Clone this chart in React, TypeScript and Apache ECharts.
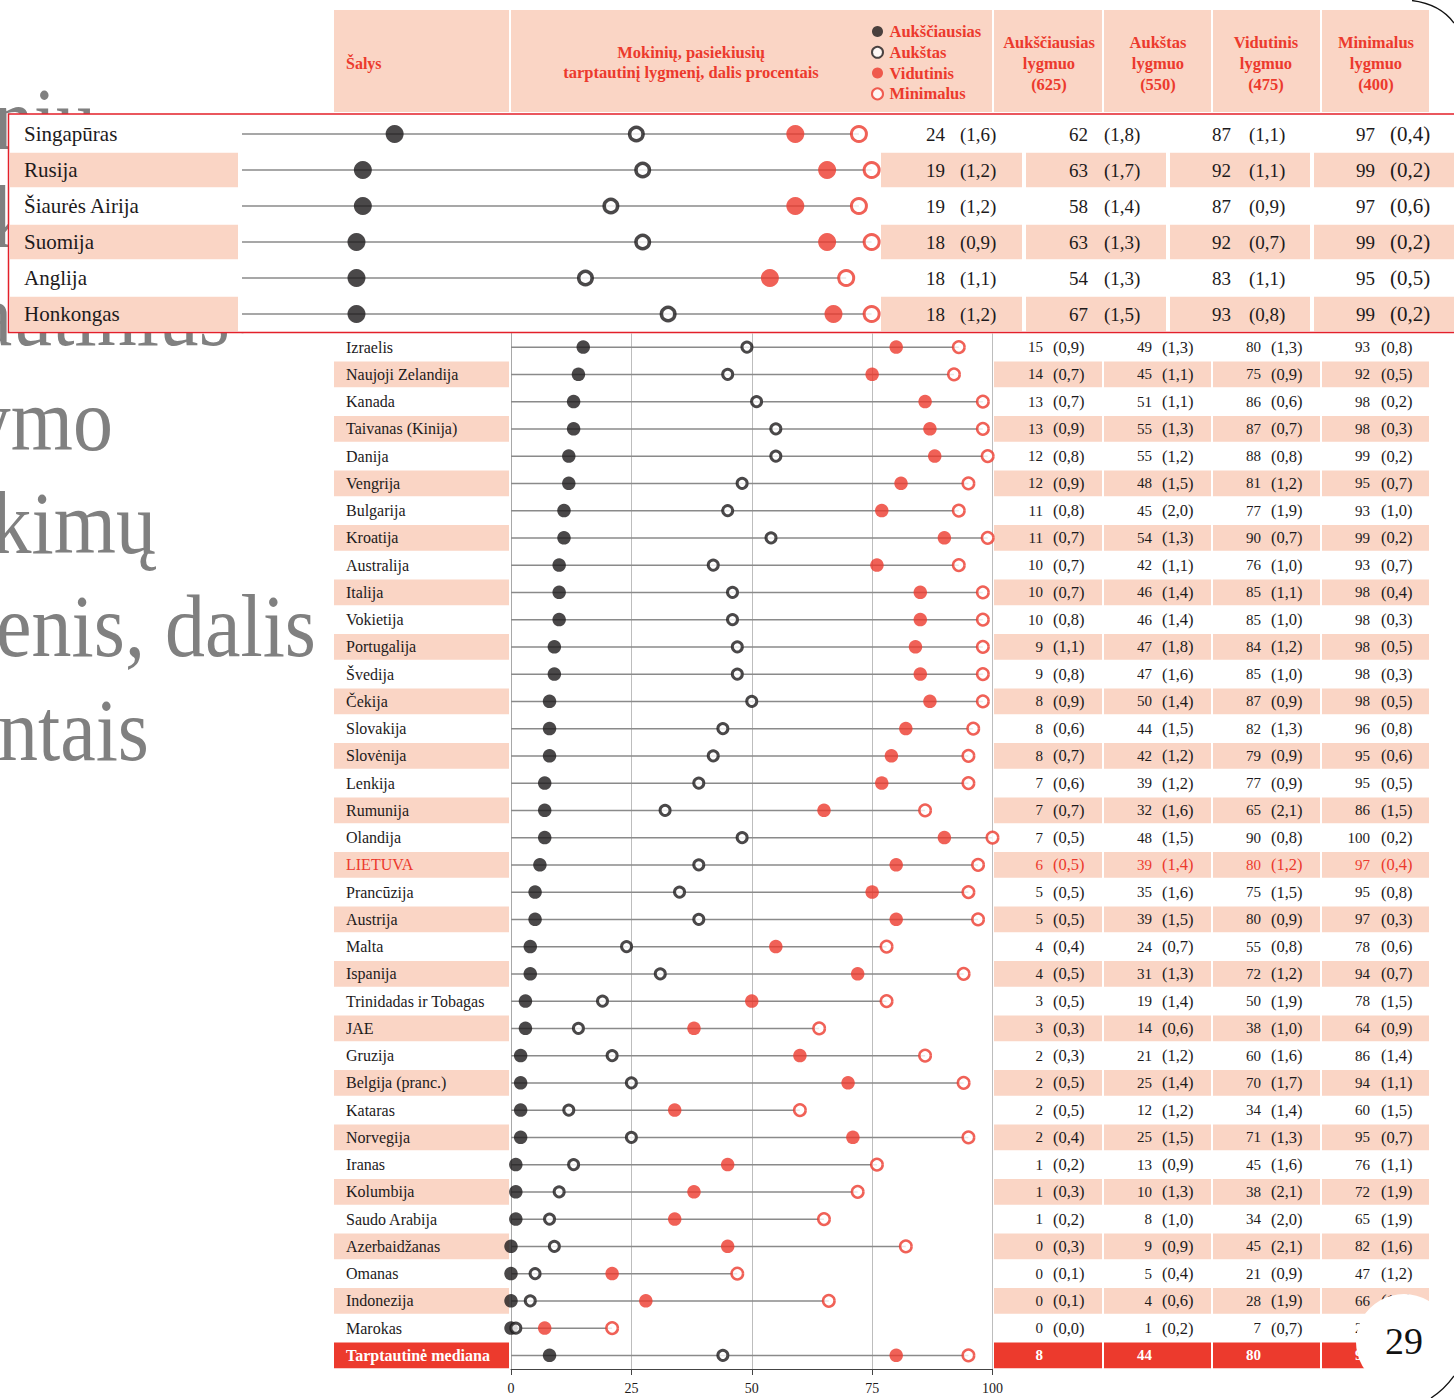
import React, { useEffect, useRef } from "react";
import * as echarts from "echarts";

// ---------- DATA ----------
const insetCountries = ["Singapūras", "Rusija", "Šiaurės Airija", "Suomija", "Anglija", "Honkongas"];
const insetAdvanced = [24, 19, 19, 18, 18, 18];
const insetAdvancedSE = ["1,6", "1,2", "1,2", "0,9", "1,1", "1,2"];
const insetHigh = [62, 63, 58, 63, 54, 67];
const insetHighSE = ["1,8", "1,7", "1,4", "1,3", "1,3", "1,5"];
const insetIntermediate = [87, 92, 87, 92, 83, 93];
const insetIntermediateSE = ["1,1", "1,1", "0,9", "0,7", "1,1", "0,8"];
const insetLow = [97, 99, 97, 99, 95, 99];
const insetLowSE = ["0,4", "0,2", "0,6", "0,2", "0,5", "0,2"];

const mainCountries = [
  "Izraelis", "Naujoji Zelandija", "Kanada", "Taivanas (Kinija)", "Danija", "Vengrija", "Bulgarija",
  "Kroatija", "Australija", "Italija", "Vokietija", "Portugalija", "Švedija", "Čekija", "Slovakija",
  "Slovėnija", "Lenkija", "Rumunija", "Olandija", "LIETUVA", "Prancūzija", "Austrija", "Malta",
  "Ispanija", "Trinidadas ir Tobagas", "JAE", "Gruzija", "Belgija (pranc.)", "Kataras", "Norvegija",
  "Iranas", "Kolumbija", "Saudo Arabija", "Azerbaidžanas", "Omanas", "Indonezija", "Marokas",
];
const highlightCountry = "LIETUVA";
const medianLabel = "Tarptautinė mediana";

const mainAdvanced = [15, 14, 13, 13, 12, 12, 11, 11, 10, 10, 10, 9, 9, 8, 8, 8, 7, 7, 7, 6, 5, 5, 4, 4, 3, 3, 2, 2, 2, 2, 1, 1, 1, 0, 0, 0, 0];
const mainAdvancedSE = ["0,9", "0,7", "0,7", "0,9", "0,8", "0,9", "0,8", "0,7", "0,7", "0,7", "0,8", "1,1", "0,8", "0,9", "0,6", "0,7", "0,6", "0,7", "0,5", "0,5", "0,5", "0,5", "0,4", "0,5", "0,5", "0,3", "0,3", "0,5", "0,5", "0,4", "0,2", "0,3", "0,2", "0,3", "0,1", "0,1", "0,0"];
const mainHigh = [49, 45, 51, 55, 55, 48, 45, 54, 42, 46, 46, 47, 47, 50, 44, 42, 39, 32, 48, 39, 35, 39, 24, 31, 19, 14, 21, 25, 12, 25, 13, 10, 8, 9, 5, 4, 1];
const mainHighSE = ["1,3", "1,1", "1,1", "1,3", "1,2", "1,5", "2,0", "1,3", "1,1", "1,4", "1,4", "1,8", "1,6", "1,4", "1,5", "1,2", "1,2", "1,6", "1,5", "1,4", "1,6", "1,5", "0,7", "1,3", "1,4", "0,6", "1,2", "1,4", "1,2", "1,5", "0,9", "1,3", "1,0", "0,9", "0,4", "0,6", "0,2"];
const mainIntermediate = [80, 75, 86, 87, 88, 81, 77, 90, 76, 85, 85, 84, 85, 87, 82, 79, 77, 65, 90, 80, 75, 80, 55, 72, 50, 38, 60, 70, 34, 71, 45, 38, 34, 45, 21, 28, 7];
const mainIntermediateSE = ["1,3", "0,9", "0,6", "0,7", "0,8", "1,2", "1,9", "0,7", "1,0", "1,1", "1,0", "1,2", "1,0", "0,9", "1,3", "0,9", "0,9", "2,1", "0,8", "1,2", "1,5", "0,9", "0,8", "1,2", "1,9", "1,0", "1,6", "1,7", "1,4", "1,3", "1,6", "2,1", "2,0", "2,1", "0,9", "1,9", "0,7"];
const mainLow = [93, 92, 98, 98, 99, 95, 93, 99, 93, 98, 98, 98, 98, 98, 96, 95, 95, 86, 100, 97, 95, 97, 78, 94, 78, 64, 86, 94, 60, 95, 76, 72, 65, 82, 47, 66, 21];
const mainLowSE = ["0,8", "0,5", "0,2", "0,3", "0,2", "0,7", "1,0", "0,2", "0,7", "0,4", "0,3", "0,5", "0,3", "0,5", "0,8", "0,6", "0,5", "1,5", "0,2", "0,4", "0,8", "0,3", "0,6", "0,7", "1,5", "0,9", "1,4", "1,1", "1,5", "0,7", "1,1", "1,9", "1,9", "1,6", "1,2", "1,7", "1,0"];
const medianValues = [8, 44, 80, 95];

const levelNames = ["Aukščiausias", "Aukštas", "Vidutinis", "Minimalus"];
const levelHeaders = [
  ["Aukščiausias", "lygmuo", "(625)"],
  ["Aukštas", "lygmuo", "(550)"],
  ["Vidutinis", "lygmuo", "(475)"],
  ["Minimalus", "lygmuo", "(400)"],
];
const countryHeader = "Šalys";
const chartHeader = ["Mokinių, pasiekiusių", "tarptautinį lygmenį, dalis procentais"];
const xTicks = [0, 25, 50, 75, 100];
const titleLines = ["Mokinių,", "pasiekusių", "tarptautinius", "skaitymo", "pasiekimų", "lygmenis, dalis", "procentais"];
const pageNumber = "29";

// ---------- STYLE ----------
const FONT = '"Liberation Serif", "Times New Roman", serif';
const RED = "#ec3a2d";
const SALMON = "#fad5c5";
const INK = "#1d1a1b";
const GRID_GREY = "#bdbdbd";
const LINE_GREY = "#8a8a8a";

const mainCategories = [...mainCountries, medianLabel];
const withMedian = (arr: number[], k: number) => [...arr, medianValues[k]];

function tableRenderer(o: any) {
  return (params: any, api: any) => {
    const i = params.dataIndex;
    const y = api.coord([0, i])[1];
    const h = api.size([0, 1])[1];
    const top = y - h / 2 + o.gap / 2;
    const ch = h - o.gap;
    const isMedian = o.medianIndex === i;
    const isHi = o.labels[i] === highlightCountry;
    const bg = isMedian ? RED : i % 2 === 1 ? SALMON : null;
    const txt = isMedian ? "#ffffff" : isHi ? RED : INK;
    const children: any[] = [];
    if (bg) children.push({ type: "rect", shape: { x: o.labelX, y: top, width: o.labelW, height: ch }, style: { fill: bg } });
    children.push({
      type: "text",
      style: {
        text: o.labels[i], x: o.labelTextX, y, fill: txt, fontSize: o.labelSize, fontFamily: FONT,
        fontWeight: isMedian ? "bold" : "normal", textAlign: "left", textVerticalAlign: "middle",
      },
    });
    o.cols.forEach((col: any, k: number) => {
      if (bg) children.push({ type: "rect", shape: { x: col.x, y: top, width: col.w, height: ch }, style: { fill: bg } });
      children.push({
        type: "text",
        style: {
          text: String(o.values[k][i]), x: col.valRight, y, fill: txt, fontSize: o.numSize, fontFamily: FONT,
          fontWeight: isMedian ? "bold" : "normal", textAlign: "right", textVerticalAlign: "middle",
        },
      });
      if (!isMedian) {
        children.push({
          type: "text",
          style: {
            text: "(" + o.ses[k][i] + ")", x: col.seLeft, y, fill: txt, fontSize: col.seSize || o.seSize, fontFamily: FONT,
            textAlign: "left", textVerticalAlign: "middle",
          },
        });
      }
    });
    return { type: "group", children };
  };
}

function lineRenderer(params: any, api: any) {
  const row = api.value(1);
  const p0 = api.coord([0, row]);
  const p1 = api.coord([api.value(0), row]);
  return { type: "line", shape: { x1: p0[0], y1: p0[1], x2: p1[0], y2: p1[1] }, style: { stroke: LINE_GREY, lineWidth: 1.5 } };
}

function dots(name: string, gi: number, values: number[], size: number, style: any) {
  return {
    type: "scatter", name, xAxisIndex: gi, yAxisIndex: gi, symbol: "circle", symbolSize: size,
    itemStyle: style, z: 5, silent: true, data: values.map((v, i) => [v, i]),
  };
}

function buildOption() {
  const insetValues = [insetAdvanced, insetHigh, insetIntermediate, insetLow];
  const insetSEs = [insetAdvancedSE, insetHighSE, insetIntermediateSE, insetLowSE];
  const mainValues = [0, 1, 2, 3].map((k) => withMedian([mainAdvanced, mainHigh, mainIntermediate, mainLow][k], k));
  const mainSEs = [mainAdvancedSE, mainHighSE, mainIntermediateSE, mainLowSE];

  const styles = (big: boolean) => [
    { color: INK },
    { color: "#ffffff", borderColor: INK, borderWidth: big ? 3.5 : 3 },
    { color: RED },
    { color: "#ffffff", borderColor: RED, borderWidth: big ? 3 : 2.5 },
  ];
  const sizesInset = [18, 13.5, 18, 15];
  const sizesMain = [13.5, 10, 13.5, 11.5];

  const series: any[] = [];
  series.push({
    type: "custom", xAxisIndex: 0, yAxisIndex: 0, z: 2, silent: true,
    encode: { x: 0, y: 1 }, data: insetCountries.map((_, i) => [0, i]),
    renderItem: tableRenderer({
      labels: insetCountries, values: insetValues, ses: insetSEs, medianIndex: -1, gap: 1.5,
      labelX: 10, labelW: 228, labelTextX: 24, labelSize: 21, numSize: 19, seSize: 19,
      cols: [
        { x: 881, w: 141, valRight: 945, seLeft: 960 },
        { x: 1026, w: 140, valRight: 1088, seLeft: 1104 },
        { x: 1170, w: 140, valRight: 1231, seLeft: 1249 },
        { x: 1314, w: 145, valRight: 1375, seLeft: 1390, seSize: 21 },
      ],
    }),
  });
  series.push({
    type: "custom", xAxisIndex: 1, yAxisIndex: 1, z: 2, silent: true,
    encode: { x: 0, y: 1 }, data: mainCategories.map((_, i) => [0, i]),
    renderItem: tableRenderer({
      labels: mainCategories, values: mainValues, ses: mainSEs, medianIndex: mainCountries.length, gap: 1.6,
      labelX: 334, labelW: 175, labelTextX: 346, labelSize: 16, numSize: 15, seSize: 16.5,
      cols: [
        { x: 994, w: 108, valRight: 1043, seLeft: 1053 },
        { x: 1104, w: 107, valRight: 1152, seLeft: 1162 },
        { x: 1213, w: 107, valRight: 1261, seLeft: 1271 },
        { x: 1322, w: 107, valRight: 1370, seLeft: 1381 },
      ],
    }),
  });
  series.push({
    type: "custom", xAxisIndex: 0, yAxisIndex: 0, z: 3, silent: true, encode: { x: 0, y: 1 },
    data: insetLow.map((v, i) => [v, i]), renderItem: lineRenderer,
  });
  series.push({
    type: "custom", xAxisIndex: 1, yAxisIndex: 1, z: 3, silent: true, encode: { x: 0, y: 1 },
    data: mainValues[3].map((v, i) => [v, i]), renderItem: lineRenderer,
  });
  const si = styles(true);
  const sm = styles(false);
  [0, 1, 2, 3].forEach((k) => {
    series.push(dots(levelNames[k], 0, insetValues[k], sizesInset[k], si[k]));
    series.push(dots(levelNames[k], 1, mainValues[k], sizesMain[k], sm[k]));
  });

  const graphic: any[] = [];
  const titleRight = [116, 165, 230, 113, 156, 316, 149];
  const titleMid = [118, 216, 314, 419, 522, 625, 729];
  titleLines.forEach((t, i) => {
    graphic.push({
      type: "text", x: titleRight[i], y: titleMid[i], scaleY: 1.12, z: 0, silent: true,
      style: { text: t, fill: "#808080", fontSize: 80, fontFamily: FONT, textAlign: "right", textVerticalAlign: "middle" },
    });
  });
  graphic.push({ type: "rect", z: 1, silent: true, shape: { x: 8, y: 114, width: 1446, height: 218.5 }, style: { fill: "#ffffff" } });
  const headerCells = [[334, 175], [511, 481], [994, 108], [1104, 107], [1213, 107], [1322, 107]];
  headerCells.forEach(([x, w]) => {
    graphic.push({ type: "rect", z: 1, silent: true, shape: { x, y: 10, width: w, height: 102 }, style: { fill: SALMON } });
  });
  const hText = (text: string, x: number, y: number, align: string, size: number) => ({
    type: "text", z: 2, silent: true,
    style: { text, x, y, fill: RED, fontSize: size, fontWeight: "bold", fontFamily: FONT, textAlign: align, textVerticalAlign: "middle" },
  });
  graphic.push(hText(countryHeader, 346, 63, "left", 16));
  graphic.push(hText(chartHeader[0], 691, 52, "center", 16.5));
  graphic.push(hText(chartHeader[1], 691, 72, "center", 16.5));
  const colCenters = [1049, 1158, 1266, 1376];
  levelHeaders.forEach((lines, k) => {
    lines.forEach((t, j) => graphic.push(hText(t, colCenters[k], 42 + j * 21, "center", 16.5)));
  });
  graphic.push({ type: "rect", z: 50, silent: true, shape: { x: 8.5, y: 114, width: 1460, height: 218.5 }, style: { fill: "none", stroke: "#e3202a", lineWidth: 1.5 } });
  graphic.push({ type: "bezierCurve", z: 60, silent: true, shape: { x1: 1412, y1: 0.5, cpx1: 1440, cpy1: 4, x2: 1454, y2: 23 }, style: { stroke: "#111", lineWidth: 1.3, fill: "none" } });
  graphic.push({ type: "bezierCurve", z: 60, silent: true, shape: { x1: 1431, y1: 1398, cpx1: 1444, cpy1: 1390, x2: 1454, y2: 1376 }, style: { stroke: "#111", lineWidth: 1.3, fill: "none" } });
  graphic.push({ type: "circle", z: 60, silent: true, shape: { cx: 1404, cy: 1342, r: 48 }, style: { fill: "#ffffff" } });
  graphic.push({
    type: "text", z: 61, silent: true,
    style: { text: pageNumber, x: 1404, y: 1341, fill: "#111", fontSize: 38, fontFamily: FONT, textAlign: "center", textVerticalAlign: "middle" },
  });

  return {
    animation: false,
    backgroundColor: "#ffffff",
    textStyle: { fontFamily: FONT },
    legend: {
      data: levelNames, orient: "vertical", left: 866, top: 18, itemWidth: 14, itemHeight: 11, itemGap: 3.8,
      selectedMode: false,
      textStyle: { color: RED, fontSize: 16.5, fontWeight: "bold", fontFamily: FONT, lineHeight: 15 },
    },
    grid: [
      { left: 242, top: 116, width: 636, height: 216 },
      { left: 511, top: 333.5, width: 481.5, height: 1035.5 },
    ],
    xAxis: [
      {
        gridIndex: 0, type: "value", min: 0, max: 100, interval: 25,
        axisLine: { show: false }, axisTick: { show: false }, axisLabel: { show: false },
        splitLine: { show: true, lineStyle: { color: GRID_GREY, width: 1 } },
      },
      {
        gridIndex: 1, type: "value", min: xTicks[0], max: xTicks[xTicks.length - 1], interval: 25,
        axisLine: { show: true, onZero: false, lineStyle: { color: "#444", width: 1 } },
        axisTick: { show: true, length: 6, lineStyle: { color: "#444" } },
        axisLabel: { color: INK, fontSize: 14, fontFamily: FONT, margin: 12 },
        splitLine: { show: true, lineStyle: { color: GRID_GREY, width: 1 } },
      },
    ],
    yAxis: [
      {
        gridIndex: 0, type: "category", inverse: true, data: insetCountries, offset: 2,
        axisLine: { show: true, lineStyle: { color: "#c4c4c4", width: 3 } },
        axisTick: { show: false }, axisLabel: { show: false }, splitLine: { show: false },
      },
      {
        gridIndex: 1, type: "category", inverse: true, data: mainCategories,
        axisLine: { show: true, lineStyle: { color: "#a8a8a8", width: 1 } },
        axisTick: { show: false }, axisLabel: { show: false }, splitLine: { show: false },
      },
    ],
    series,
    graphic,
  };
}

export default function App() {
  const ref = useRef<HTMLDivElement>(null);
  useEffect(() => {
    const chart = echarts.init(ref.current as HTMLDivElement, null, { renderer: "svg" });
    chart.setOption(buildOption() as any);
    return () => chart.dispose();
  }, []);
  return (
    <div
      ref={ref}
      style={{ position: "absolute", left: 0, top: 0, width: 1454, height: 1398, background: "#ffffff", overflow: "hidden" }}
    />
  );
}
